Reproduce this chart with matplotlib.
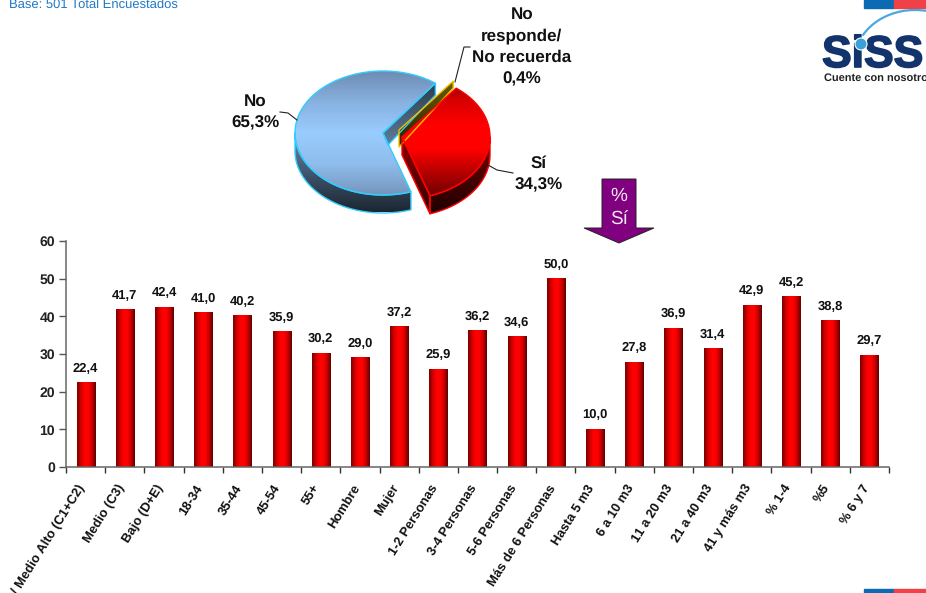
import matplotlib
matplotlib.use("Agg")
import matplotlib.pyplot as plt
import matplotlib.patheffects as pe
import numpy as np
from matplotlib.colors import LinearSegmentedColormap as LSC
from matplotlib.patches import Polygon, Circle, Arc, Rectangle

plt.rcParams["font.family"] = ["Liberation Sans", "DejaVu Sans"]
plt.rcParams["text.hinting"] = "no_hinting"
plt.rcParams["text.hinting_factor"] = 1

CATEGORIES = ["Alto / Medio Alto (C1+C2)", "Medio (C3)", "Bajo (D+E)", "18-34", "35-44", "45-54", "55+",
              "Hombre", "Mujer", "1-2 Personas", "3-4 Personas", "5-6 Personas",
              "Más de 6 Personas", "Hasta 5 m3", "6 a 10 m3", "11 a 20 m3", "21 a 40 m3",
              "41 y más m3", "% 1-4", "%5", "% 6 y 7"]
VALUES = [22.4, 41.7, 42.4, 41.0, 40.2, 35.9, 30.2, 29.0, 37.2, 25.9, 36.2, 34.6,
          50.0, 10.0, 27.8, 36.9, 31.4, 42.9, 45.2, 38.8, 29.7]
Y_TICKS = [0, 10, 20, 30, 40, 50, 60]

PIE_SI = 34.3
PIE_NO = 65.3
PIE_NR = 0.4

W, H = 926, 593
fig = plt.figure(figsize=(W / 100, H / 100), dpi=100, facecolor="white")

# ---- barras ----
ax = fig.add_axes([66 / W, (H - 467) / H, 823 / W, 226 / H])
BAR_CMAP = LSC.from_list("bar", ["#7a0000", "#d00000", "#ff0000", "#ff0000", "#c80000", "#600000"])
xs = np.arange(len(VALUES))
bars = ax.bar(xs, VALUES, width=0.46, color="#ff0000", edgecolor="none")
grad = np.linspace(0, 1, 64).reshape(1, -1)
for b, v in zip(bars, VALUES):
    x0 = b.get_x()
    ax.imshow(grad, cmap=BAR_CMAP, aspect="auto", zorder=2,
              extent=(x0, x0 + b.get_width(), 0, b.get_height()))
    ax.text(b.get_x() + b.get_width() / 2, v + 2.2, f"{v:.1f}".replace(".", ","),
            ha="center", va="bottom", fontsize=9.6, fontweight="bold", color="#111111")
ax.set_xlim(-0.5, len(VALUES) - 0.5)
ax.set_ylim(0, 60)
ax.set_yticks(Y_TICKS)
ax.set_xticks(np.arange(len(VALUES) + 1) - 0.5, labels=[])
for s in ["top", "right"]:
    ax.spines[s].set_visible(False)
for s in ["left", "bottom"]:
    ax.spines[s].set_color("#666666")
    ax.spines[s].set_linewidth(1.1)
ax.tick_params(axis="y", length=5, width=1, color="#555555", labelsize=10.4, pad=3)
ax.tick_params(axis="x", length=4, width=1, color="#333333")
for t in ax.get_yticklabels():
    t.set_fontweight("bold")
    t.set_color("#222222")
for x, c in zip(xs, CATEGORIES):
    ax.annotate(c, (x, 0), xytext=(-6, -11), textcoords="offset points", rotation=58,
                ha="right", va="top", rotation_mode="anchor", fontsize=9.3,
                fontweight="bold", color="#111111", annotation_clip=False)

# ---- capa en pixeles: torta, flecha, logo ----
ov = fig.add_axes([0, 0, 1, 1], zorder=5)
ov.set_xlim(0, W)
ov.set_ylim(H, 0)
ov.axis("off")
ov.patch.set_alpha(0)


def pt(cx, cy, ang, rx=88, ry=62):
    a = np.radians(ang)
    return cx + rx * np.cos(a), cy - ry * np.sin(a)


def arc_pts(cx, cy, a0, a1, n=80):
    return np.array([pt(cx, cy, a) for a in np.linspace(a0, a1, n)])


def fill_grad(pts, colors, y0, y1, edge):
    # poligono con degrade vertical
    cmap = LSC.from_list("g", colors)
    poly = Polygon(pts, closed=True, facecolor="none", edgecolor="none")
    ov.add_patch(poly)
    x0, x1 = pts[:, 0].min(), pts[:, 0].max()
    im = ov.imshow(np.linspace(0, 1, 128).reshape(-1, 1), cmap=cmap, aspect="auto",
                   extent=(x0, x1, y1, y0), origin="upper")
    im.set_clip_path(poly)
    ov.add_patch(Polygon(pts, closed=True, facecolor="none", edgecolor=edge, lw=1, joinstyle="round"))


START = 52
DEPTH = 18
a_si = START - PIE_SI * 3.6
a_no = a_si - PIE_NO * 3.6

NO_TOP = ["#6d8cb3", "#88b2e0", "#99ccff", "#8fbdec", "#7596bd"]
NO_SIDE = ["#6f8fae", "#3f566e", "#1b2631"]
RED_TOP = ["#7a0000", "#d80000", "#ff0000", "#ff0000", "#b00000", "#6a0000"]
RED_SIDE = ["#8a0000", "#4a0000", "#200000"]

# No
cx, cy = 383, 133
# cara radial visible (arriba a la derecha)
e = np.array(pt(cx, cy, a_no + 360))
face = np.array([[cx, cy], e, e + [0, 12], [cx + 5, cy + 12]])
fill_grad(face, ["#2c3c4c", "#5f7d9b"], 83, 145, "#33ccff")
# costado
lo = arc_pts(cx, cy, -180, a_si)
side = np.vstack([lo, (lo + [0, DEPTH])[::-1]])
fill_grad(side, NO_SIDE, 133, 212, "#33ccff")
top = np.vstack([[cx, cy], arc_pts(cx, cy, a_si, a_no)])
fill_grad(top, NO_TOP, 71, 195, "#33ccff")

# No responde (sector muy delgado, separado)
c2 = (399, 130)
e2 = np.array(pt(c2[0], c2[1], START))
y_face = np.array([c2, e2, e2 + [0, 7], [c2[0], c2[1] + 17]])
fill_grad(y_face, ["#6b5a00", "#2a2200"], 82, 147, "#f0c000")

# Si
cx2, cy2 = 402, 137
e3 = np.array(pt(cx2, cy2, a_si))
rface = np.array([[cx2, cy2], e3, e3 + [0, DEPTH], [cx2, cy2 + DEPTH]])
fill_grad(rface, ["#900000", "#300000"], 137, 213, "#ff0000")
lo = arc_pts(cx2, cy2, 0, a_si)
side = np.vstack([lo, (lo + [0, DEPTH])[::-1]])
fill_grad(side, RED_SIDE, 137, 213, "#ff0000")
top = np.vstack([[cx2, cy2], arc_pts(cx2, cy2, START, a_si)])
fill_grad(top, RED_TOP, 75, 199, "#ff0000")

# etiquetas torta
LBL = dict(ha="center", va="center", fontsize=12.5, fontweight="bold", color="#111111", linespacing=1.47)
ov.text(522, 47, "No\nresponde/\nNo recuerda\n" + f"{PIE_NR:.1f}%".replace(".", ","), **LBL)
ov.text(255, 112, "No\n" + f"{PIE_NO:.1f}%".replace(".", ","), **LBL)
ov.text(539, 174, "Sí\n" + f"{PIE_SI:.1f}%".replace(".", ","), **LBL)
ov.plot([455, 464, 470], [82, 47, 47], color="#222222", lw=0.8)
ov.plot([280, 288, 297], [112, 113, 120], color="#222222", lw=0.8)
ov.plot([488, 497, 513], [165, 170, 173], color="#222222", lw=0.8)

# flecha
arrow = np.array([[602, 179], [636, 179], [636, 228], [654, 228], [619, 243], [584, 228], [602, 228]])
ov.add_patch(Polygon(arrow, closed=True, facecolor="#800080", edgecolor="#222222", lw=0.7))
ov.text(619, 208, "%\nSí", ha="center", va="center", fontsize=13.5, color="#f4e6f4", linespacing=1.5)

# encabezado
ov.text(9, 5, "Base: 501 Total Encuestados", fontsize=9.2, color="#1f78c8", ha="left", va="center")
ov.add_patch(Rectangle((864, 0), 30, 8, color="#0a6ab4"))
ov.add_patch(Rectangle((894, 0), 32, 8, color="#f04048"))
ov.add_patch(Rectangle((864, 589), 30, 4, color="#0a6ab4"))
ov.add_patch(Rectangle((894, 589), 32, 4, color="#f04048"))

# logo
logo = ov.text(822, 67, "SiSS", fontsize=32, fontweight="bold", color="#12336b", ha="left", va="baseline")
logo.set_path_effects([pe.withStroke(linewidth=1.2, foreground="#12336b")])
ov.add_patch(Circle((861, 44), 6, facecolor="#3aa0d8", edgecolor="white", lw=0.8, zorder=4))
ov.add_patch(Arc((915, 60), 120, 100, theta1=205, theta2=310, color="#4aa8e0", lw=1.6))
ov.text(824, 78, "Cuente con nosotros", fontsize=7.8, fontweight="bold", color="#222222", ha="left", va="center")

ov.set_xlim(0, W)
ov.set_ylim(H, 0)
fig.savefig("out.png", dpi=100)
